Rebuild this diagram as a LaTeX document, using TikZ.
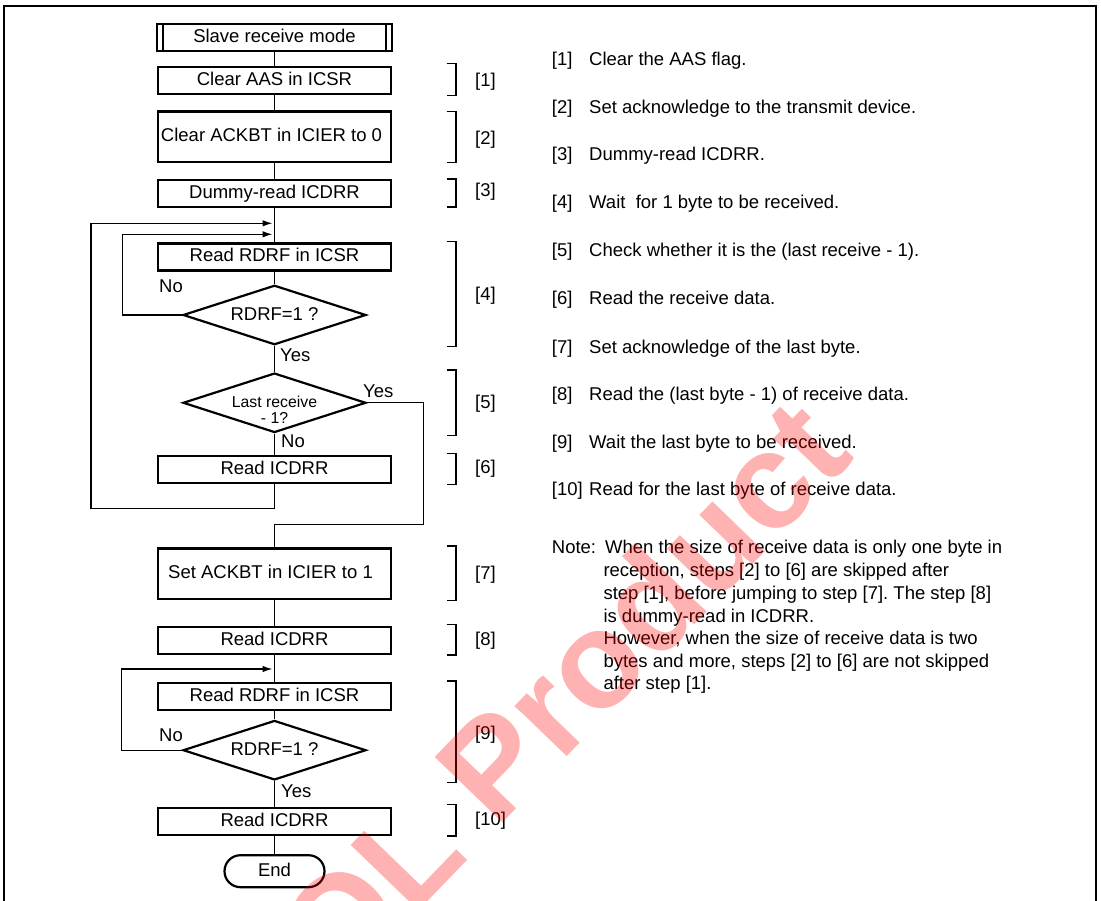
\documentclass[tikz,border=0pt]{standalone}
\usepackage{fontspec}
\setmainfont{Liberation Sans}
\usetikzlibrary{shapes.geometric,arrows.meta}
\begin{document}
\frenchspacing
\begin{tikzpicture}[x=1pt,y=-1pt,
  every node/.style={font=\fontsize{18.5}{22}\selectfont, inner sep=0pt, text height=13.5pt, text depth=3.9pt},
  box/.style={draw, line width=2.2pt, minimum width=233.6pt, minimum height=27pt},
  bigbox/.style={box, minimum height=50.5pt},
  dia/.style={draw, diamond, line width=2.2pt, minimum width=183pt, minimum height=59.5pt},
  conn/.style={line width=1.3pt},
  arr/.style={conn, -{Latex[length=10pt,width=6.5pt]}},
  brk/.style={line width=1.4pt},
  lbl/.style={anchor=west},
  ttl/.style={draw, line width=2.2pt, rounded corners=16pt, minimum width=100pt, minimum height=32pt}
]
\useasboundingbox (0,0) rectangle (1101,901);
% frame
\draw[line width=2pt] (4,901) -- (4,6) -- (1096,6) -- (1096,901);

% flow nodes
\node[box, minimum width=235.3pt, minimum height=27.2pt] (start) at (274.5,37.5) {Slave receive mode};
\draw[line width=1.8pt] ([xshift=7pt]start.north west) -- ([xshift=7pt]start.south west);
\draw[line width=1.8pt] ([xshift=-7pt]start.north east) -- ([xshift=-7pt]start.south east);
\node[box] (clr) at (274.5,80.7) {Clear AAS in ICSR};
\node[bigbox] (ack) at (274.5,136.7) {\hspace*{-6pt}Clear ACKBT in ICIER to 0};
\node[box] (dum) at (274.5,193.3) {Dummy-read ICDRR};
\node[box] (rd1) at (274.5,257) {Read RDRF in ICSR};
\node[dia] (d1) at (274.5,315) {};
\node (t1) at (274.5,316) {RDRF=1 ?};
\node[dia] (d2) at (274.5,402.8) {};
\node[font=\fontsize{15.8}{16.5}\selectfont, align=center, text height=, text depth=] (t2) at (274.5,410) {Last receive\\- 1?};
\node[box] (rd2) at (274.5,469.7) {Read ICDRR};
\node[bigbox] (set) at (274.5,573.7) {\hspace*{-8pt}Set ACKBT in ICIER to 1};
\node[box] (rd3) at (274.5,640.3) {Read ICDRR};
\node[box] (rd4) at (274.5,696.2) {Read RDRF in ICSR};
\node[dia] (d3) at (274.5,750.2) {};
\node (t3) at (274.5,751) {RDRF=1 ?};
\node[box] (rd5) at (274.5,821.3) {Read ICDRR};
\node[ttl] (fin) at (274.5,871.2) {End};

% loop coordinates
\coordinate (in1) at (272.5,234.3);
\coordinate (in2) at (272.5,223.3);
\coordinate (c1) at (91,508.3);
\coordinate (c2) at (423.3,524.3);
\coordinate (in3) at (272.5,669);

% connectors
\draw[conn] (start) -- (clr);
\draw[conn] (clr) -- (ack);
\draw[conn] (ack) -- (dum);
\draw[conn] (dum) -- (rd1);
\draw[conn] (rd1) -- (d1.north);
\draw[conn] (d1.south) -- (d2.north);
\draw[conn] (d2.south) -- (rd2);
\draw[arr] (d1.west) -- ++(-59.7,0) |- (in1);
\draw[arr] (rd2.south) |- (c1) |- (in2);
\draw[conn] (d2.east) -| (c2) -- (c2 -| set.north) -- (set.north);
\draw[conn] (set) -- (rd3);
\draw[conn] (rd3) -- (rd4);
\draw[conn] (rd4) -- (d3.north);
\draw[conn] (d3.south) -- (rd5);
\draw[conn] (rd5) -- (fin);
\draw[arr] (d3.west) -- ++(-60.7,0) |- (in3);

% yes/no labels
\node[lbl] (no1) at (159,287.7) {No};
\node[lbl] (yes1) at (280,357) {Yes};
\node[lbl] (yes2) at (363,392.7) {Yes};
\node[lbl] (no2) at (281,443) {No};
\node[lbl] (no3) at (159,736.7) {No};
\node[lbl] (yes3) at (281,793) {Yes};

% brackets
\foreach \t/\b/\l/\n in {63.3/95.3/82/1, 111.7/162.7/140/2, 179/207/192/3, 241.7/346.7/296/4, 370/435.7/404/5, 453.3/484.3/469/6, 546/600.7/575/7, 624.3/655/641/8, 681/782.7/735/9, 804.3/836/820.7/10}{
  \draw[brk] (446.7,\t) -- (456,\t) -- (456,\b) -- (446.7,\b);
  \node[lbl] (b\n) at (475,\l) {[\n]};
}

% descriptions
\foreach \y/\n/\txt in {60.7/1/Clear the AAS flag., 109/2/Set acknowledge to the transmit device., 155.7/3/Dummy-read ICDRR., 204/4/Wait\ \ for 1 byte to be received., 251.7/5/Check whether it is the (last receive - 1)., 299.3/6/Read the receive data., 348.3/7/Set acknowledge of the last byte., 395.7/8/Read the (last byte - 1) of receive data., 443.3/9/Wait the last byte to be received., 491/10/Read for the last byte of receive data.}{
  \node[lbl] (n\n) at (551.7,\y) {[\n]};
  \node[lbl] (s\n) at (589,\y) {\txt};
}

% note
\node[lbl] (note) at (551.7,549) {Note:};
\node[lbl] (nl1) at (605,549) {When the size of receive data is only one byte in};
\node[lbl] (nl2) at (603.3,571.7) {reception, steps [2] to [6] are skipped after};
\node[lbl] (nl3) at (603.3,595) {step [1], before jumping to step [7]. The step [8]};
\node[lbl] (nl4) at (603.3,617.3) {is dummy-read in ICDRR.};
\node[lbl] (nl5) at (603.3,640) {However, when the size of receive data is two};
\node[lbl] (nl6) at (603.3,662.3) {bytes and more, steps [2] to [6] are not skipped};
\node[lbl] (nl7) at (603.3,685) {after step [1].};

% watermark
\node[font=\fontsize{137}{137}\selectfont\bfseries, text=red, opacity=0.3, rotate=46, anchor=east, text height=98pt, text depth=0pt] (wm) at (821,423) {EOL Product};
\end{tikzpicture}
\end{document}
